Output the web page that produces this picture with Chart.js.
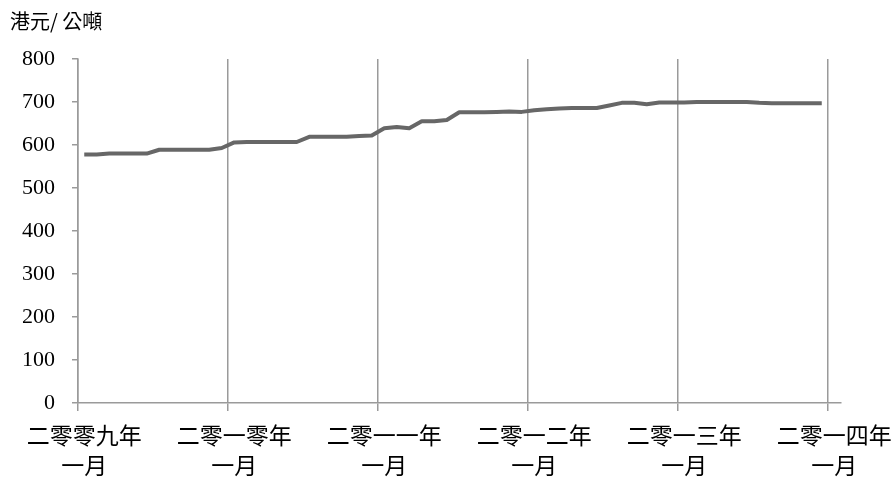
<!DOCTYPE html>
<html>
<head>
<meta charset="utf-8">
<script src="https://cdn.jsdelivr.net/npm/chart.js@4/dist/chart.umd.min.js"></script>
<style>
  html, body { margin: 0; padding: 0; background: #ffffff; }
  #wrap { width: 895px; height: 481px; position: relative; }
</style>
</head>
<body>
<div id="wrap"><canvas id="c"></canvas></div>
<script>
// Monthly categories, Jan 2009 – Jan 2014
const months = [
  '2009-01','2009-02','2009-03','2009-04','2009-05','2009-06','2009-07','2009-08','2009-09','2009-10','2009-11','2009-12',
  '2010-01','2010-02','2010-03','2010-04','2010-05','2010-06','2010-07','2010-08','2010-09','2010-10','2010-11','2010-12',
  '2011-01','2011-02','2011-03','2011-04','2011-05','2011-06','2011-07','2011-08','2011-09','2011-10','2011-11','2011-12',
  '2012-01','2012-02','2012-03','2012-04','2012-05','2012-06','2012-07','2012-08','2012-09','2012-10','2012-11','2012-12',
  '2013-01','2013-02','2013-03','2013-04','2013-05','2013-06','2013-07','2013-08','2013-09','2013-10','2013-11','2013-12',
  '2014-01'
];

// Price, HK$ per tonne
const prices = [
  578, 578, 580, 580, 580, 580, 589, 589, 589, 589, 589, 593,
  606, 607, 607, 607, 607, 607, 619, 619, 619, 619, 621, 622,
  639, 642, 639, 655, 655, 658, 676, 676, 676, 677, 678, 677,
  681, 683, 685, 686, 686, 686, 692, 698, 698, 695, 699, 699,
  699, 700, 700, 700, 700, 700, 698, 697, 697, 697, 697, 697
];

// Year labels shown under every January
const yearLabels = ['二零零九年', '二零一零年', '二零一一年', '二零一二年', '二零一三年', '二零一四年'];
const monthLabel = '一月';
const yTicks = [0, 100, 200, 300, 400, 500, 600, 700, 800];

const axisGray = '#9a9a9a';
const cjk = '"Noto Sans CJK TC", "Noto Sans CJK SC", sans-serif';
const serif = '"Liberation Serif", "DejaVu Serif", serif';

new Chart(document.getElementById('c'), {
  type: 'line',
  data: {
    labels: months,
    datasets: [{
      data: prices,
      borderColor: '#676767',
      borderWidth: 4,
      pointRadius: 0,
      tension: 0,
      fill: false,
      borderCapStyle: 'butt',
      borderJoinStyle: 'round'
    }]
  },
  options: {
    responsive: true,
    maintainAspectRatio: false,
    animation: false,
    layout: { padding: { left: 10, right: 54.5, top: 0, bottom: 0 } },
    plugins: {
      legend: { display: false },
      tooltip: { enabled: false },
      title: {
        display: true,
        text: '港元/ 公噸',
        align: 'start',
        color: '#000',
        font: { family: cjk, size: 20, weight: 'normal', lineHeight: 1.2 },
        padding: { top: 9, bottom: 26 }
      }
    },
    scales: {
      x: {
        type: 'category',
        offset: true,
        grid: {
          offset: true,
          drawOnChartArea: true,
          drawTicks: true,
          tickLength: 8,
          lineWidth: 1.5,
          color: (ctx) => (ctx.index % 12 === 0 ? axisGray : 'rgba(0,0,0,0)')
        },
        border: { display: true, color: axisGray, width: 1.5 },
        ticks: {
          autoSkip: false,
          minRotation: 0,
          maxRotation: 0,
          padding: 9,
          color: '#000',
          font: { family: cjk, size: 23, lineHeight: 1.3 },
          callback: (value, index) => (index % 12 === 0 ? [yearLabels[index / 12], monthLabel] : '')
        },
        afterFit: (scale) => {
          scale.height = 78;
          scale.paddingLeft = 0;
          scale.paddingRight = 0;
        }
      },
      y: {
        min: 0,
        max: 800,
        afterBuildTicks: (scale) => { scale.ticks = yTicks.map(v => ({ value: v })); },
        grid: {
          drawOnChartArea: false,
          drawTicks: true,
          tickLength: 6,
          lineWidth: 1.5,
          color: axisGray
        },
        border: { display: true, color: axisGray, width: 1.5 },
        ticks: {
          padding: 17,
          color: '#000',
          font: { family: serif, size: 22 }
        },
        afterFit: (scale) => { scale.width = 68; }
      }
    }
  }
});
</script>
</body>
</html>
